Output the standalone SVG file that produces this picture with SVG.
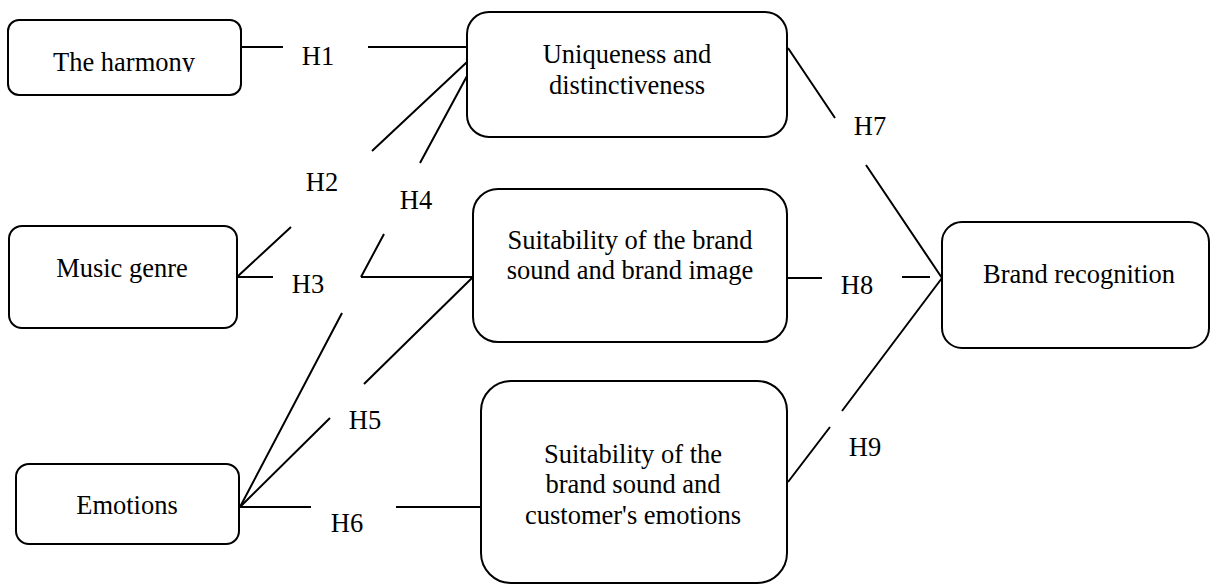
<svg xmlns="http://www.w3.org/2000/svg" width="1210" height="584" viewBox="0 0 1210 584">
<style>
.box{fill:#fff;stroke:#000;stroke-width:2}
.t{font-family:"Liberation Serif","Times New Roman",serif;font-size:26.5px;fill:#000;text-anchor:middle}
.c{fill:none;stroke:#000;stroke-width:2}
</style>
<defs>
<clipPath id="clipH"><rect x="8" y="20" width="234" height="52"/></clipPath>
</defs>
<rect width="1210" height="584" fill="#fff"/>
<g id="connectors">
<path class="c" d="M241,47 L283,47 M368,47 L467,47"/>
<path class="c" d="M237,277 L291,227 M372,151 L467,62"/>
<path class="c" d="M237,277 L273,277 M361,277 L473,277"/>
<path class="c" d="M240,507 L342,313 M361,277 L384,234 M420,163 L467,76"/>
<path class="c" d="M240,507 L330,418 M364,384 L473,277"/>
<path class="c" d="M240,507 L311,507 M396,507 L483,507"/>
<path class="c" d="M788,48 L835,118 M866,165 L942,278"/>
<path class="c" d="M787,278 L822,278 M902,277 L930,277"/>
<path class="c" d="M788,482 L830,427 M842,411 L942,278"/>
<text class="t" x="318" y="65">H1</text>
<text class="t" x="322" y="191">H2</text>
<text class="t" x="308" y="293">H3</text>
<text class="t" x="416" y="209">H4</text>
<text class="t" x="365" y="429">H5</text>
<text class="t" x="347" y="532">H6</text>
<text class="t" x="870" y="135">H7</text>
<text class="t" x="857" y="294">H8</text>
<text class="t" x="865" y="456">H9</text>
</g>
<g id="harmony">
<rect class="box" x="8" y="20" width="233" height="75" rx="11"/>
<text class="t" x="124" y="71" clip-path="url(#clipH)">The harmony</text>
</g>
<g id="music">
<rect class="box" x="9" y="226" width="228" height="102" rx="13"/>
<text class="t" x="122" y="277">Music genre</text>
</g>
<g id="emotions">
<rect class="box" x="16" y="464" width="223" height="80" rx="13"/>
<text class="t" x="127" y="514">Emotions</text>
</g>
<g id="uniqueness">
<rect class="box" x="467" y="12" width="320" height="125" rx="22"/>
<text class="t" x="627" y="63">Uniqueness and</text>
<text class="t" x="627" y="94">distinctiveness</text>
</g>
<g id="suit1">
<rect class="box" x="473" y="189" width="314" height="153" rx="25"/>
<text class="t" x="630" y="249">Suitability of the brand</text>
<text class="t" x="630" y="279">sound and brand image</text>
</g>
<g id="suit2">
<rect class="box" x="481" y="381" width="306" height="202" rx="30"/>
<text class="t" x="633" y="463">Suitability of the</text>
<text class="t" x="633" y="493">brand sound and</text>
<text class="t" x="633" y="524">customer's emotions</text>
</g>
<g id="brand">
<rect class="box" x="942" y="222" width="267" height="126" rx="20"/>
<text class="t" x="1079" y="283">Brand recognition</text>
</g>
</svg>
